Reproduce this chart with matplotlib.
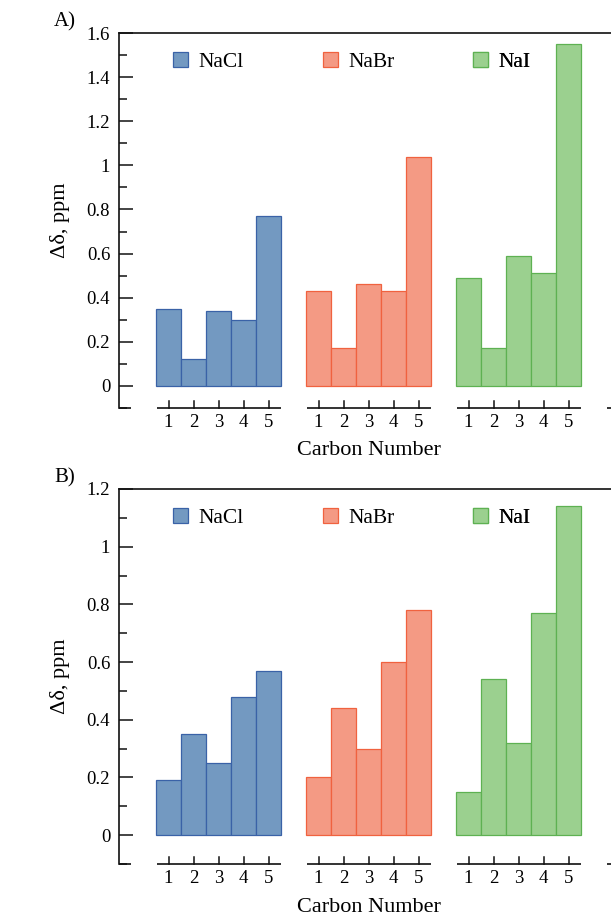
import numpy as np
import matplotlib
matplotlib.use("Agg")
import matplotlib.pyplot as plt
from matplotlib.ticker import MultipleLocator, FuncFormatter
from matplotlib.transforms import blended_transform_factory

plt.rcParams["font.family"] = ["Liberation Serif", "DejaVu Serif"]

# Chemical shift changes (ppm) per carbon for each salt
salts = ["NaCl", "NaBr", "NaI"]
carbons = [1, 2, 3, 4, 5]

a_nacl = [0.35, 0.12, 0.34, 0.30, 0.77]
a_nabr = [0.43, 0.17, 0.46, 0.43, 1.04]
a_nai = [0.49, 0.17, 0.59, 0.51, 1.55]

b_nacl = [0.19, 0.35, 0.25, 0.48, 0.57]
b_nabr = [0.20, 0.44, 0.30, 0.60, 0.78]
b_nai = [0.15, 0.54, 0.32, 0.77, 1.14]

y_tops = [1.6, 1.2]
panel_tags = ["A)", "B)"]

fill_colors = ["#7399c1", "#f49a84", "#9bd08f"]
edge_colors = ["#3a62a7", "#f0623f", "#5eb152"]

W, H = 611, 916
fig = plt.figure(figsize=(W / 100, H / 100), dpi=100)


def axes_px(left, top, width, height):
    return fig.add_axes([left / W, 1 - (top + height) / H, width / W, height / H])


def fmt_tick(v, pos):
    if abs(v) < 1e-9:
        return "0"
    return f"{v:.1f}".rstrip("0").rstrip(".")


GROUP_STEP = 6
N_SLOTS = 4
AX_LEFT, AX_W, AX_H = 118.5, 625, 375
panel_tops = [33, 489]
panel_data = [[a_nacl, a_nabr, a_nai], [b_nacl, b_nabr, b_nai]]

for p in range(2):
    ax = axes_px(AX_LEFT, panel_tops[p], AX_W, AX_H)
    blend = blended_transform_factory(ax.transData, ax.transAxes)
    x_c = np.array(carbons, dtype=float)

    for g, (salt, vals) in enumerate(zip(salts, panel_data[p])):
        xs = GROUP_STEP * g + x_c
        bars = ax.bar(xs, vals, width=1.0, color=fill_colors[g],
                      edgecolor=edge_colors[g], linewidth=0.9, zorder=2)
        leg = ax.legend([bars], [salt], loc="center left",
                        bbox_to_anchor=(GROUP_STEP * g + 1.18, 0.923),
                        bbox_transform=blend, frameon=False, borderpad=0,
                        borderaxespad=0, handlelength=0.7, handleheight=0.7,
                        handletextpad=0.5, fontsize=15.5)
        ax.add_artist(leg)
        # carbon labels under each group
        for c, x in zip(carbons, xs):
            ax.text(x, -0.038, str(c), transform=blend, ha="center", va="center",
                    fontsize=13.5)

    # broken x axis: one short segment with upward ticks per group slot
    for g in range(N_SLOTS):
        x0 = GROUP_STEP * g + 0.5
        ax.plot([x0 + 0.04, x0 + 5], [0, 0], color="#111111", lw=1.2,
                transform=blend, clip_on=False, solid_capstyle="butt")
        for x in GROUP_STEP * g + x_c:
            ax.plot([x, x], [0, 7 / AX_H], color="#111111", lw=1.1,
                    transform=blend, clip_on=False)

    # short stub closing the left spine
    ax.plot([-1, -1 + 12 / 25], [0, 0], color="#111111", lw=1.2,
            transform=blend, clip_on=False, solid_capstyle="butt")

    ax.set_xlim(-1, 24)
    ax.set_ylim(-0.1, y_tops[p])
    ax.set_xticks([])
    ax.yaxis.set_major_locator(MultipleLocator(0.2))
    ax.yaxis.set_minor_locator(MultipleLocator(0.1))
    ax.yaxis.set_major_formatter(FuncFormatter(fmt_tick))
    ax.tick_params(axis="y", which="major", direction="in", length=10, width=1.1,
                   pad=6, labelsize=13.5, color="#111111")
    ax.tick_params(axis="y", which="minor", direction="in", length=6, width=1.1,
                   color="#111111")
    ax.spines["bottom"].set_visible(False)
    ax.spines["right"].set_visible(False)
    for s in ("left", "top"):
        ax.spines[s].set_linewidth(1.2)
        ax.spines[s].set_color("#111111")

    ax.text(9, -(451 - 408) / AX_H, "Carbon Number", transform=blend,
            ha="center", va="center", fontsize=16)

    mid_y = panel_tops[p] + AX_H / 2
    fig.text(60 / W, 1 - mid_y / H, "Δδ, ppm", rotation=90, ha="center",
             va="center", fontsize=16)
    fig.text(65 / W, 1 - (panel_tops[p] - 11) / H, panel_tags[p], ha="center",
             va="center", fontsize=15)

fig.savefig("out.png", dpi=100)
